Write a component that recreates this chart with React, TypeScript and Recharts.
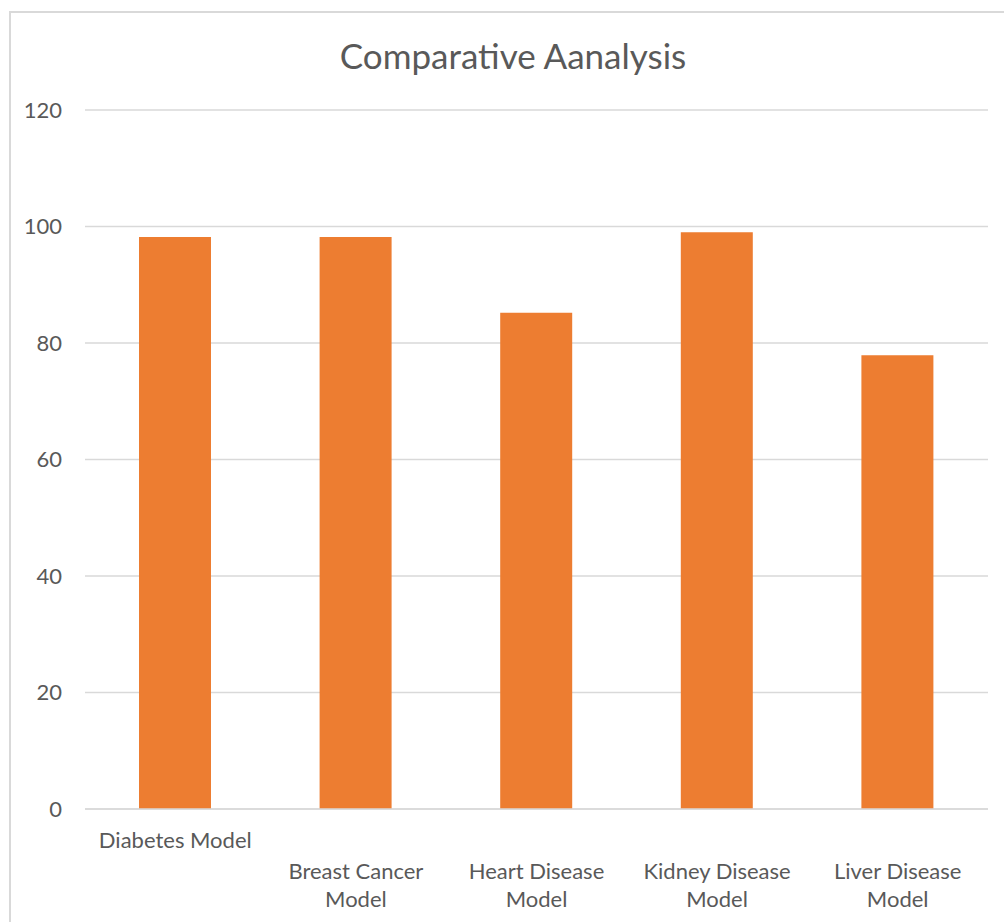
import React from 'react';
import { BarChart, Bar, XAxis, YAxis, CartesianGrid } from 'recharts';

const models = ['Diabetes Model', 'Breast Cancer Model', 'Heart Disease Model', 'Kidney Disease Model', 'Liver Disease Model'];
const accuracy = [98.2, 98.2, 85.2, 99.0, 77.9];
const yTicks = [0, 20, 40, 60, 80, 100, 120];
const tickLines = [
  ['Diabetes Model'],
  ['Breast Cancer', 'Model'],
  ['Heart Disease', 'Model'],
  ['Kidney Disease', 'Model'],
  ['Liver Disease', 'Model'],
];

const data = models.map((name, i) => ({ name, value: accuracy[i] }));

const FONT = 'Lato, "Open Sans", sans-serif';
const TEXT = '#595959';
const GRID = '#d9d9d9';

const CategoryTick = (props: any) => {
  const { x, y, payload, index } = props;
  const lines = tickLines[index] || [payload.value];
  const offsets = lines.length === 1 ? [22] : [53, 81];
  return (
    <g>
      {lines.map((line: string, i: number) => (
        <text
          key={i}
          x={x}
          y={y + offsets[i]}
          textAnchor="middle"
          dominantBaseline="central"
          fill={TEXT}
          fontSize={22}
          fontFamily={FONT}
        >
          {line}
        </text>
      ))}
    </g>
  );
};

export default function App() {
  return (
    <div style={{ position: 'absolute', left: 0, top: 0, width: 1004, height: 922, overflow: 'hidden', background: '#fff' }}>
      <style>{'body{margin:0}'}</style>
      <div
        style={{
          position: 'absolute',
          left: 9,
          top: 11,
          width: 1010,
          height: 930,
          border: `2px solid ${GRID}`,
          boxSizing: 'border-box',
        }}
      />
      <div
        style={{
          position: 'absolute',
          left: 9,
          top: 33,
          width: 1008,
          textAlign: 'center',
          fontFamily: FONT,
          fontSize: 35,
          lineHeight: '44px',
          color: TEXT,
        }}
      >
        Comparative Aanalysis
      </div>
      <div style={{ position: 'absolute', left: 0, top: 0 }}>
        <BarChart width={1004} height={922} data={data} margin={{ top: 110, right: 16, bottom: 0, left: 0 }}>
          <CartesianGrid vertical={false} stroke={GRID} strokeWidth={1.5} />
          <XAxis
            dataKey="name"
            axisLine={{ stroke: GRID, strokeWidth: 1.5 }}
            tickLine={false}
            interval={0}
            tick={<CategoryTick />}
            height={113}
          />
          <YAxis
            domain={[0, 120]}
            ticks={yTicks}
            width={85}
            axisLine={false}
            tickLine={false}
            tickSize={0}
            tickMargin={23}
            tick={{ fill: TEXT, fontSize: 22, fontFamily: FONT }}
          />
          <Bar dataKey="value" fill="#ED7D31" barSize={72} isAnimationActive={false} />
        </BarChart>
      </div>
    </div>
  );
}
